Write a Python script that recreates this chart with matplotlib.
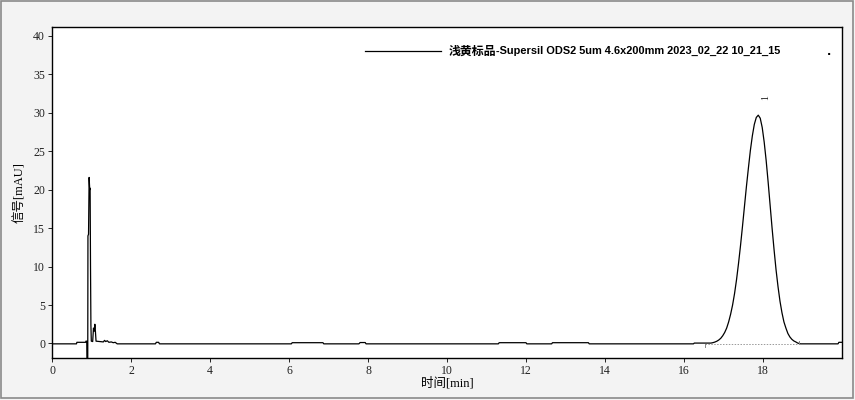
import matplotlib
matplotlib.use('Agg')
import matplotlib.pyplot as plt
from matplotlib.patches import Rectangle
from matplotlib.lines import Line2D

# chromatogram trace (time in min, signal in mAU)
time = [0.00, 0.62, 0.63, 0.85, 0.86, 0.88, 0.885, 0.905, 0.91, 0.925, 0.94, 0.955,
        0.965, 0.975, 0.985, 0.995, 1.03, 1.05, 1.07, 1.085, 1.10, 1.115, 1.30, 1.33,
        1.36, 1.40, 1.44, 1.50, 1.55, 1.60, 1.65, 2.62, 2.64, 2.70, 2.72, 6.06, 6.08,
        6.86, 6.88, 7.77, 7.80, 7.93, 7.95, 11.30, 11.32, 12.00, 12.02, 12.65, 12.67,
        13.58, 13.60, 16.24, 16.26, 16.68,
        16.73, 16.78, 16.83, 16.88, 16.93, 16.98, 17.03, 17.08, 17.13, 17.18, 17.23,
        17.28, 17.33, 17.38, 17.43, 17.48, 17.53, 17.58, 17.63, 17.68, 17.73, 17.78,
        17.83, 17.88, 17.93, 17.98, 18.03, 18.08, 18.13, 18.18, 18.23, 18.28, 18.33,
        18.38, 18.43, 18.48, 18.53, 18.58, 18.63, 18.68, 18.73, 18.78, 18.83, 18.88,
        18.95, 19.90, 19.92, 20.00]
signal = [-0.05, -0.05, 0.15, 0.15, 0.30, 0.30, -2.5, -2.5, 14.0, 14.2, 21.6, 20.0,
          20.2, 10.0, 2.4, 0.3, 0.25, 2.0, 1.6, 2.5, 1.5, 0.3, 0.2, 0.4,
          0.25, 0.35, 0.15, 0.2, 0.1, 0.15, -0.05, -0.05, 0.15, 0.15, -0.05, -0.05, 0.1,
          0.1, -0.05, -0.05, 0.12, 0.12, -0.05, -0.05, 0.1, 0.1, -0.05, -0.05, 0.1,
          0.1, -0.05, -0.05, 0.05, 0.05,
          0.10, 0.18, 0.29, 0.45, 0.67, 1.0, 1.43, 2.0, 2.8, 3.8, 5.0,
          6.5, 8.3, 10.4, 12.7, 15.2, 17.8, 20.4, 22.8, 25.1, 27.0, 28.5,
          29.4, 29.7, 29.3, 28.1, 26.2, 23.8, 21.0, 18.0, 15.0, 12.2, 9.6,
          7.4, 5.5, 4.0, 2.8, 2.0, 1.3, 0.85, 0.54, 0.33, 0.2, 0.05,
          -0.05, -0.05, 0.15, 0.15]

peak_names = ['1']
peak_label_pos = [(18.07, 32.0)]
baseline_start, baseline_end, baseline_level = 16.53, 18.91, -0.08

legend_cn = '浅黄标品'
legend_en = '-Supersil ODS2 5um 4.6x200mm 2023_02_22 10_21_15'

serif = ['Liberation Serif', 'Noto Sans CJK SC']

fig = plt.figure(figsize=(8.55, 4.0), dpi=100, facecolor='#f3f3f3')
ax = fig.add_axes([52 / 855, 1 - 358.3 / 400, 790 / 855, 331 / 400])
ax.set_facecolor('white')

ax.plot(time, signal, color='black', linewidth=0.9)

# integration baseline and markers
ax.plot([baseline_start, baseline_end], [baseline_level, baseline_level],
        color='#999999', linewidth=0.7, linestyle=(0, (1.5, 1.5)))
ax.plot([baseline_start, baseline_start], [-0.05, -0.4], color='#888888', linewidth=0.7)
ax.plot([baseline_end, baseline_end], [-0.05, 0.35], color='#888888', linewidth=0.7)

for name, (px, py) in zip(peak_names, peak_label_pos):
    ax.text(px, py, name, rotation=90, ha='center', va='center', fontsize=7,
            family=serif, color='#222222')

ax.set_xlim(0, 20)
ax.set_ylim(-1.93, 41.13)
ax.set_xticks(range(0, 20, 2))
ax.set_yticks(range(0, 41, 5))
ax.tick_params(direction='out', length=3, width=0.7, labelsize=8.5, pad=2,
               colors='#222222')
for lab in ax.get_xticklabels() + ax.get_yticklabels():
    lab.set_family(serif)
for sp in ax.spines.values():
    sp.set_linewidth(1.0)
    sp.set_color('black')

ax.set_xlabel('时间[min]', family=serif, fontsize=9, labelpad=0)
ax.set_ylabel('信号[mAU]', family=serif, fontsize=9, labelpad=5)

# legend drawn by hand
ax.add_line(Line2D([0.396, 0.492], [0.928, 0.928], transform=ax.transAxes,
                   color='black', linewidth=0.9))
t1 = ax.text(0.5025, 0.928, legend_cn, transform=ax.transAxes, ha='left', va='center',
             fontsize=8.6, fontweight='bold', family=['Noto Sans CJK SC'])
ax.annotate(legend_en, xy=(1, 0.5), xycoords=t1, ha='left', va='center',
            fontsize=7.95, fontweight='bold', family=['Liberation Sans'])
ax.text(0.9835, 0.925, '.', transform=ax.transAxes, ha='center', va='center',
        fontsize=8, fontweight='bold')

fig.patches.append(Rectangle((0.001, 0.004), 0.997, 0.994, transform=fig.transFigure,
                             fill=False, edgecolor='#8a8a8a', linewidth=1.2))

fig.savefig('out.png', dpi=100, facecolor=fig.get_facecolor())
